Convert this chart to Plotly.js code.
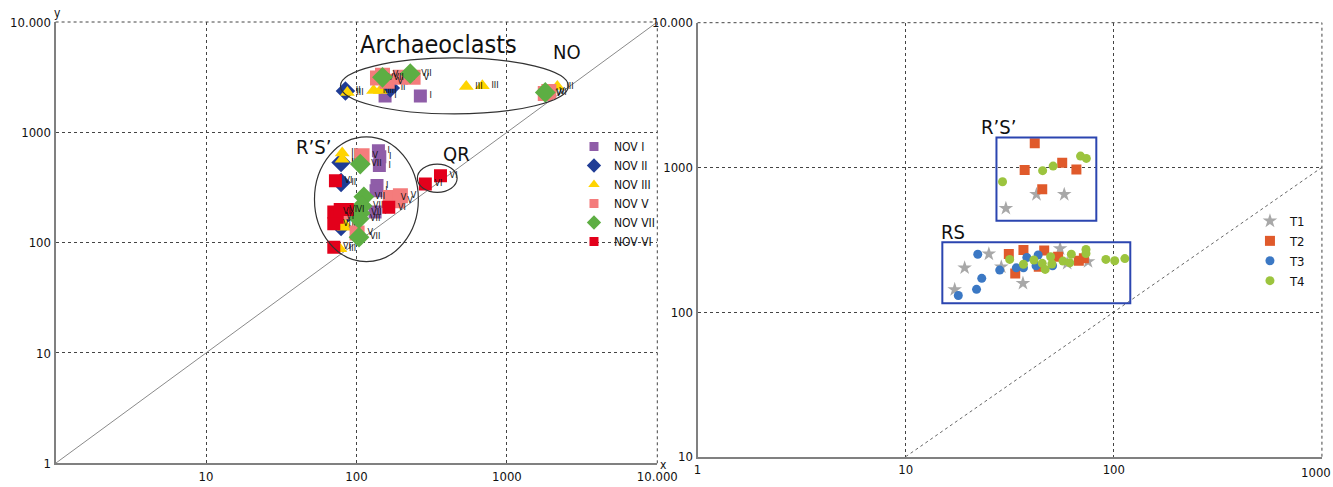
<!DOCTYPE html>
<html>
<head>
<meta charset="utf-8">
<script src="https://cdn.plot.ly/plotly-3.0.1.min.js"></script>
<style>html,body{margin:0;padding:0;background:#fff;}#chart{width:1333px;height:487px;}</style>
</head>
<body>
<div id="chart"></div>
<script>
// ---------- Left panel data (NOV series) ----------
const novNames = ['NOV I', 'NOV II', 'NOV III', 'NOV V', 'NOV VII', 'NOV VI'];
const novLabels = ['I', 'II', 'III', 'V', 'VII', 'VI'];
const novIx = [155, 266, 140, 143, 142, 137, 135, 133];
const novIy = [2140, 2140, 680, 600, 500, 330, 295, 190];
const novIIx = [84.5, 168, 79, 79, 80, 79];
const novIIy = [2375, 2528, 533, 351, 165, 140];
const novIIIx = [87, 130, 144, 537, 687, 2166, 80.4, 80.4, 82.4, 83, 77.5];
const novIIIy = [2300, 2400, 2400, 2600, 2650, 2600, 650, 570, 150, 138, 88];
const novVx = [138, 149, 160, 196, 238, 1800, 1900, 109, 168, 186, 196, 91, 101];
const novVy = [3100, 3300, 2900, 3150, 3150, 2250, 2350, 613, 257, 240, 266, 190, 122];
const novVIIx = [149, 228, 1800, 106, 112, 109, 106, 104, 104];
const novVIIy = [3150, 3400, 2300, 515, 260, 215, 185, 165, 112];
const novVIx = [72.5, 70.7, 74.5, 70.7, 78, 87, 164, 70.7, 287, 362];
const novVIy = [364, 190, 170, 148, 200, 200, 209, 91, 340, 404];

// ---------- Right panel data (T series) ----------
const tNames = ['T1', 'T2', 'T3', 'T4'];
const t1x = [30.3, 42.5, 57.8, 17.2, 19.2, 25.1, 28.8, 36.6, 55.2, 59.7, 75.2];
const t1y = [521, 650, 650, 143, 202, 252, 205, 158, 274, 217, 223];
const t2x = [41.7, 37.3, 56.5, 66.1, 45.3, 31.3, 33.6, 36.8, 43.6, 46.3, 54.0, 67.9, 71.8];
const t2y = [1466, 959, 1077, 968, 705, 252, 185, 268, 206, 266, 241, 226, 235];
const t3x = [22.2, 17.9, 21.9, 23.2, 28.3, 34.0, 36.8, 38.2, 43.3, 42.3, 50.8];
const t3y = [251, 130, 143.5, 171, 195, 202, 202, 238, 248, 209, 209];
const t4x = [29.2, 45.5, 51.1, 69.2, 73.8, 31.6, 36.8, 41.3, 45.3, 46.8, 49.7, 50.4, 57.0, 62.5, 61.4, 73.5, 73.5, 91.6, 101, 113];
const t4y = [796, 949, 1021, 1197, 1153, 231, 214, 229, 217, 197, 241, 215, 225, 251, 219, 271, 254, 231, 226, 234];

// ---------- Axis tick labels ----------
const leftXTicks = [10, 100, 1000, 10000];
const leftXText = ['10', '100', '1000', '10.000'];
const leftYTicks = [1, 10, 100, 1000, 10000];
const leftYText = ['1', '10', '100', '1000', '10.000'];
const rightXTicks = [1, 10, 100, 1000];
const rightXText = ['1', '10', '100', '1000'];
const rightYTicks = [10, 100, 1000, 10000];
const rightYText = ['10', '100', '1000', '10.000'];

// ---------- Group outlines (data units) ----------
const leftGroups = [
  {name: 'Archaeoclasts', x: [78.3, 2563], y: [1469, 4721]},
  {name: 'R’S’', x: [52.6, 258], y: [67.3, 910]},
  {name: 'QR', x: [254, 467], y: [285, 515]}
];
const rightGroups = [
  {name: 'R’S’', x: [27.3, 82.4], y: [428, 1611]},
  {name: 'RS', x: [15.0, 120], y: [115, 304]}
];

const FONT = '"Liberation Sans Narrow", "DejaVu Sans Condensed", "Roboto", sans-serif';

const novX = [novIx, novIIx, novIIIx, novVx, novVIIx, novVIx];
const novY = [novIy, novIIy, novIIIy, novVy, novVIIy, novVIy];
const novColors = ['#8F5DA8', '#1F3C96', '#FFD400', '#F47C7C', '#5DAE43', '#E3001B'];
const novSymbols = ['square', 'diamond', 'triangle-up', 'square', 'diamond', 'square'];
const novSizes = [13, 15, 13, 15, 16, 13];
const novLegendSizes = [9, 11, 10, 9, 11, 9];

const traces = [];
traces.push({x: [1, 10000], y: [1, 10000], mode: 'lines', line: {color: '#8a8a8a', width: 1},
  xaxis: 'x', yaxis: 'y', showlegend: false, hoverinfo: 'skip'});
traces.push({x: [10, 1000], y: [10, 1000], mode: 'lines', line: {color: '#666', width: 1, dash: 'dot'},
  xaxis: 'x2', yaxis: 'y2', showlegend: false, hoverinfo: 'skip'});

for (let i = 0; i < novNames.length; i++) {
  traces.push({
    x: novX[i], y: novY[i], name: novNames[i], mode: 'markers+text',
    text: novX[i].map(() => novLabels[i]), textposition: 'middle right',
    textfont: {family: FONT, size: 9, color: '#111'},
    marker: {symbol: novSymbols[i], color: novColors[i], size: novSizes[i], line: {width: 0}},
    xaxis: 'x', yaxis: 'y', showlegend: false
  });
}
for (let i = 0; i < novNames.length; i++) {
  traces.push({
    x: [null], y: [null], name: novNames[i], mode: 'markers',
    marker: {symbol: novSymbols[i], color: novColors[i], size: novLegendSizes[i], line: {width: 0}},
    xaxis: 'x', yaxis: 'y', legend: 'legend', showlegend: true
  });
}

const tX = [t1x, t2x, t3x, t4x];
const tY = [t1y, t2y, t3y, t4y];
const tColors = ['#A8A8A8', '#E05A2B', '#3B78C4', '#9CC43E'];
const tSymbols = ['star', 'square', 'circle', 'circle'];
const tSizes = [11, 10, 9, 9];
for (let i = 0; i < tNames.length; i++) {
  traces.push({
    x: tX[i], y: tY[i], name: tNames[i], mode: 'markers',
    marker: {symbol: tSymbols[i], color: tColors[i], size: tSizes[i], line: {width: 0}},
    xaxis: 'x2', yaxis: 'y2', legend: 'legend2'
  });
}

const shapes = [];
leftGroups.forEach(g => shapes.push({type: 'circle', xref: 'x', yref: 'y',
  x0: g.x[0], x1: g.x[1], y0: g.y[0], y1: g.y[1], line: {color: '#333', width: 1.2}}));
rightGroups.forEach(g => shapes.push({type: 'rect', xref: 'x2', yref: 'y2',
  x0: g.x[0], x1: g.x[1], y0: g.y[0], y1: g.y[1], line: {color: '#2B45B0', width: 2}}));
// dotted frame on the top and right edges (grid lines at the range ends)
[['x', 'y'], ['x2', 'y2']].forEach(([xa, ya]) => {
  shapes.push({type: 'line', xref: xa + ' domain', yref: ya + ' domain', x0: 0, x1: 1, y0: 1, y1: 1,
    line: {color: '#444', width: 1, dash: 'dot'}});
  shapes.push({type: 'line', xref: xa + ' domain', yref: ya + ' domain', x0: 1, x1: 1, y0: 0, y1: 1,
    line: {color: '#444', width: 1, dash: 'dot'}});
});

const annotations = [
  {text: 'Archaeoclasts', x: 2.543, y: 3.80, xref: 'x', yref: 'y', showarrow: false, font: {family: FONT, size: 25, color: '#111'}},
  {text: 'NO', x: 3.40, y: 3.728, xref: 'x', yref: 'y', showarrow: false, font: {family: FONT, size: 20, color: '#111'}},
  {text: 'R’S’', x: 1.717, y: 2.867, xref: 'x', yref: 'y', showarrow: false, font: {family: FONT, size: 20, color: '#111'}},
  {text: 'QR', x: 2.662, y: 2.80, xref: 'x', yref: 'y', showarrow: false, font: {family: FONT, size: 20, color: '#111'}},
  {text: 'R’S’', x: 1.446, y: 3.278, xref: 'x2', yref: 'y2', showarrow: false, font: {family: FONT, size: 20, color: '#111'}},
  {text: 'RS', x: 1.228, y: 2.553, xref: 'x2', yref: 'y2', showarrow: false, font: {family: FONT, size: 20, color: '#111'}},
  {text: 'y', x: 52 / 1333, y: 1 - 13 / 487, xref: 'paper', yref: 'paper', yanchor: 'middle', showarrow: false, font: {family: FONT, size: 12, color: '#111'}},
  {text: 'x', x: 663 / 1333, y: 1 - 465 / 487, xref: 'paper', yref: 'paper', yanchor: 'middle', showarrow: false, font: {family: FONT, size: 12, color: '#111'}},
  {text: rightXText[rightXText.length - 1], x: 1, y: 1 - 472 / 487, xref: 'paper', yref: 'paper',
    xanchor: 'right', yanchor: 'middle', showarrow: false, font: {family: FONT, size: 13, color: '#111'}}
];

function axisBase(extra) {
  return Object.assign({
    type: 'log', showgrid: true, gridcolor: '#444', griddash: 'dot', gridwidth: 1,
    showline: true, linecolor: '#808080', linewidth: 2, zeroline: false, ticks: '',
    tickmode: 'array', tickfont: {family: FONT, size: 13, color: '#111'}, fixedrange: true
  }, extra);
}

const rightXShown = rightXText.map((t, i) => i === rightXText.length - 1 ? ' ' : t);

const layout = {
  width: 1333, height: 487,
  margin: {l: 0, r: 0, t: 0, b: 0},
  paper_bgcolor: '#fff', plot_bgcolor: '#fff',
  font: {family: FONT, color: '#111'},
  xaxis: axisBase({range: [0, 4], domain: [0.0417, 0.4931], tickvals: leftXTicks, ticktext: leftXText, anchor: 'y'}),
  yaxis: axisBase({range: [0, 4], domain: [0.0487, 0.9548], tickvals: leftYTicks, ticktext: leftYText, anchor: 'x'}),
  xaxis2: axisBase({range: [0, 3], domain: [0.5233, 0.9917], tickvals: rightXTicks, ticktext: rightXShown, anchor: 'y2'}),
  yaxis2: axisBase({range: [1, 4], domain: [0.0622, 0.9534], tickvals: rightYTicks, ticktext: rightYText, anchor: 'x2'}),
  legend: {x: 0.4306, y: 0.729, xanchor: 'left', yanchor: 'top', bgcolor: 'rgba(0,0,0,0)',
    font: {family: FONT, size: 12, color: '#111'}, itemwidth: 30, tracegroupgap: 0},
  legend2: {x: 0.9377, y: 0.577, xanchor: 'left', yanchor: 'top', bgcolor: 'rgba(0,0,0,0)',
    font: {family: FONT, size: 13, color: '#111'}, itemwidth: 30, tracegroupgap: 0},
  shapes: shapes,
  annotations: annotations,
  showlegend: true
};

Plotly.newPlot('chart', traces, layout, {displayModeBar: false, staticPlot: true});
</script>
</body>
</html>
